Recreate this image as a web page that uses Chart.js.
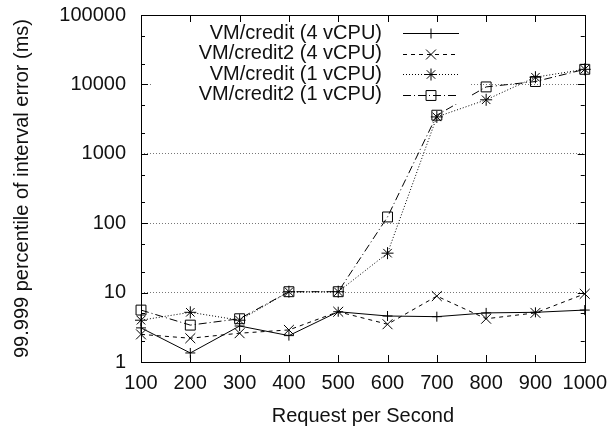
<!DOCTYPE html>
<html>
<head>
<meta charset="utf-8">
<script src="https://cdn.jsdelivr.net/npm/chart.js@4.4.0/dist/chart.umd.min.js"></script>
<style>
html, body { margin: 0; padding: 0; background: #fff; }
</style>
</head>
<body>
<canvas id="myChart" width="616" height="428"></canvas>
<script>
// x values (requests per second)
var requestRates = [100, 200, 300, 400, 500, 600, 700, 800, 900, 1000];

// series, 99.999 percentile of interval error in ms
var seriesNames = ["VM/credit (4 vCPU)", "VM/credit2 (4 vCPU)", "VM/credit (1 vCPU)", "VM/credit2 (1 vCPU)"];
var credit4 = [3.1, 1.35, 3.3, 2.4, 5.3, 4.6, 4.5, 5.1, 5.2, 5.6];
var credit2_4 = [2.5, 2.2, 2.6, 2.9, 5.3, 3.5, 8.9, 4.2, 5.1, 9.6];
var credit1 = [4.0, 5.2, 4.0, 10.3, 10.3, 37, 3400, 6000, 12700, 16500];
var credit2_1 = [5.6, 3.4, 4.2, 10.3, 10.3, 123, 3600, 9200, 11000, 16500];

// axis ticks
var xTicks = [100, 200, 300, 400, 500, 600, 700, 800, 900, 1000];
var yTicks = [1, 10, 100, 1000, 10000, 100000];
var yMinorSteps = [2, 5];

var fontFamily = '"Liberation Sans", Arial, Helvetica, sans-serif';
Chart.defaults.font.family = fontFamily;
Chart.defaults.font.size = 20;
Chart.defaults.color = "#111";

function toPoints(values) {
    var pts = [];
    for (var i = 0; i < requestRates.length; i++) {
        pts.push({x: requestRates[i], y: values[i]});
    }
    return pts;
}

function makeSet(label, values, style, radius, dash) {
    return {
        label: label,
        data: toPoints(values),
        borderColor: "#000",
        borderWidth: 1,
        borderDash: dash,
        pointStyle: style,
        pointRadius: radius,
        pointBorderColor: "#000",
        pointBackgroundColor: "rgba(0,0,0,0)",
        pointBorderWidth: 1,
        fill: false,
        tension: 0,
        clip: false
    };
}

// box with inward ticks on all four sides (gnuplot style)
var frameTicks = {
    id: "frameTicks",
    afterDatasetsDraw: function(chart) {
        var ctx = chart.ctx;
        var a = chart.chartArea;
        var xs = chart.scales.x, ys = chart.scales.y;
        ctx.save();
        ctx.strokeStyle = "#000";
        ctx.lineWidth = 1;
        ctx.setLineDash([]);
        ctx.beginPath();
        // x ticks, bottom and top
        for (var i = 0; i < xTicks.length; i++) {
            var px = Math.round(xs.getPixelForValue(xTicks[i])) + 0.5;
            ctx.moveTo(px, a.bottom); ctx.lineTo(px, a.bottom - 7);
            ctx.moveTo(px, a.top); ctx.lineTo(px, a.top + 7);
        }
        // y ticks, left and right, major and minor
        for (var j = 0; j < yTicks.length; j++) {
            var py = Math.round(ys.getPixelForValue(yTicks[j])) + 0.5;
            ctx.moveTo(a.left, py); ctx.lineTo(a.left + 7, py);
            ctx.moveTo(a.right, py); ctx.lineTo(a.right - 7, py);
            if (j < yTicks.length - 1) {
                for (var k = 0; k < yMinorSteps.length; k++) {
                    var pm = Math.round(ys.getPixelForValue(yTicks[j] * yMinorSteps[k])) + 0.5;
                    ctx.moveTo(a.left, pm); ctx.lineTo(a.left + 4, pm);
                    ctx.moveTo(a.right, pm); ctx.lineTo(a.right - 4, pm);
                }
            }
        }
        ctx.stroke();
        ctx.strokeRect(Math.round(a.left) + 0.5, Math.round(a.top) + 0.5,
            Math.round(a.right - a.left), Math.round(a.bottom - a.top));
        ctx.restore();
    }
};

// legend drawn like gnuplot's key: text right aligned, sample on the right
var keyBox = {
    id: "keyBox",
    afterDraw: function(chart) {
        var ctx = chart.ctx;
        ctx.save();
        ctx.fillStyle = "#fff";
        ctx.fillRect(152, 22, 318, 82);
        var sets = chart.data.datasets;
        for (var i = 0; i < sets.length; i++) {
            var ds = sets[i];
            var y = 33 + i * 20.5;
            ctx.fillStyle = "#111";
            ctx.font = "20px " + fontFamily;
            ctx.textAlign = "right";
            ctx.textBaseline = "middle";
            ctx.fillText(ds.label, 382, y);
            ctx.strokeStyle = "#000";
            ctx.lineWidth = 1;
            ctx.setLineDash(ds.borderDash || []);
            ctx.beginPath();
            ctx.moveTo(403, Math.round(y) + 0.5);
            ctx.lineTo(459, Math.round(y) + 0.5);
            ctx.stroke();
            ctx.setLineDash([]);
            ctx.fillStyle = "rgba(0,0,0,0)";
            Chart.helpers.drawPoint(ctx, {pointStyle: ds.pointStyle, radius: ds.pointRadius, borderWidth: 1, rotation: 0}, 431, Math.round(y) + 0.5);
        }
        ctx.restore();
    }
};

var mychart = new Chart(document.getElementById("myChart"), {
    type: "line",
    data: {
        datasets: [
            makeSet(seriesNames[0], credit4, "cross", 5, []),
            makeSet(seriesNames[1], credit2_4, "crossRot", 7, [4, 4]),
            makeSet(seriesNames[2], credit1, "star", 6, [1, 2]),
            makeSet(seriesNames[3], credit2_1, "rect", 7, [8, 3, 1, 3])
        ]
    },
    options: {
        responsive: false,
        animation: false,
        devicePixelRatio: 1,
        layout: {padding: {top: 15, right: 28, left: 0, bottom: 0}},
        plugins: {
            legend: {display: false},
            tooltip: {enabled: false}
        },
        scales: {
            x: {
                type: "linear",
                min: 100,
                max: 1000,
                afterBuildTicks: function(scale) {
                    scale.ticks = xTicks.map(function(v) { return {value: v}; });
                },
                afterFit: function(scale) { scale.height = 66; },
                grid: {display: false, drawTicks: false},
                border: {display: false},
                ticks: {padding: 9, maxRotation: 0, autoSkip: false, color: "#111",
                    callback: function(v) { return String(v); }},
                title: {display: true, text: "Request per Second", color: "#111", padding: {top: 0, bottom: 0}}
            },
            y: {
                type: "logarithmic",
                min: 1,
                max: 100000,
                afterBuildTicks: function(scale) {
                    scale.ticks = yTicks.map(function(v) { return {value: v}; });
                },
                afterFit: function(scale) {
                    scale.width = 141;
                    scale.paddingTop = 0;
                    scale.paddingBottom = 0;
                },
                grid: {display: true, drawTicks: false, color: "#777", lineWidth: 1},
                border: {display: false, dash: [1, 2]},
                ticks: {padding: 15, autoSkip: false, color: "#111",
                    callback: function(v) { return String(v); }},
                title: {display: true, text: "99.999 percentile of interval error (ms)", color: "#111", padding: {top: 10, bottom: 0}}
            }
        }
    },
    plugins: [frameTicks, keyBox]
});
</script>
</body>
</html>
